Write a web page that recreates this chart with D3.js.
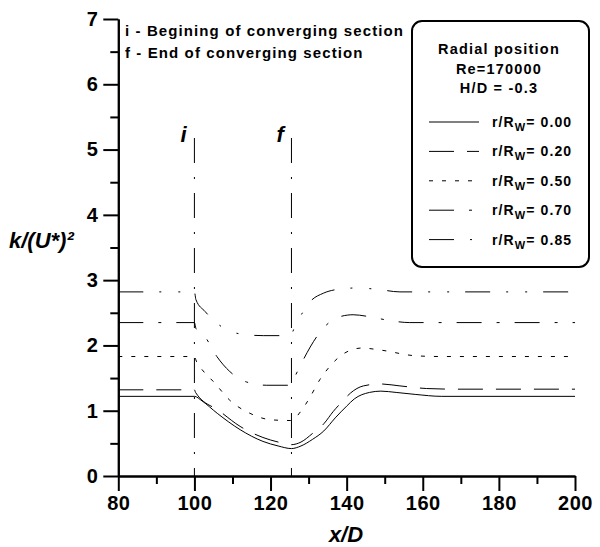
<!DOCTYPE html>
<html><head><meta charset="utf-8">
<script src="https://cdn.jsdelivr.net/npm/d3@7"></script>
<style>
body{margin:0;background:#fff;}
text{font-family:"Liberation Sans",Arial,sans-serif;font-weight:bold;fill:#000;}
</style></head>
<body>
<svg id="c" width="600" height="547"></svg>
<script>
// ---- data ----
const xTicks = [80,100,120,140,160,180,200];
const yTicks = [0,1,2,3,4,5,6,7];
const seriesNames = ["0.00","0.20","0.50","0.70","0.85"];
const markerX = [100,125.5];
const markerLabels = ["i","f"];
const notes = ["i - Begining of converging section","f - End of converging section"];
const legendTitle = ["Radial position","Re=170000","H/D = -0.3"];

const r000 = [[80,1.22],[100,1.22],[102,1.15],[106,0.96],[112,0.71],[118,0.53],[122,0.46],[125.5,0.42],[128,0.46],[131,0.56],[134,0.69],[137,0.89],[140,1.07],[142,1.18],[146,1.28],[149,1.30],[153,1.28],[158,1.25],[165,1.22],[200,1.22]];
const r020 = [[80,1.32],[100,1.32],[100.3,1.28],[106.7,0.99],[112,0.76],[118,0.59],[122,0.52],[125.5,0.48],[128,0.52],[131,0.65],[134,0.80],[136.5,0.99],[139,1.15],[141,1.27],[144.4,1.38],[148.8,1.41],[154,1.38],[161,1.34],[169,1.33],[200,1.33]];
const r050 = [[80,1.83],[100,1.83],[100.5,1.76],[101.5,1.67],[105.4,1.42],[109.3,1.16],[114.6,0.96],[120.3,0.86],[125.3,0.85],[128.2,1.01],[130.4,1.21],[133,1.48],[135.6,1.68],[139.1,1.87],[144,1.96],[148.8,1.93],[158.4,1.84],[165,1.83],[200,1.83]];
const r070 = [[80,2.35],[100,2.35],[100.4,2.26],[102.8,2.13],[105.9,1.83],[109.3,1.60],[113.7,1.44],[119,1.39],[125.4,1.39],[126.4,1.52],[128.6,1.78],[132.1,2.13],[135.6,2.36],[138.2,2.44],[141.7,2.47],[146,2.44],[151.4,2.38],[156.6,2.35],[200,2.35]];
const r085 = [[80,2.82],[100,2.82],[100.4,2.70],[102.8,2.52],[105.5,2.36],[108.5,2.24],[112.8,2.17],[118.1,2.15],[125.2,2.15],[126.4,2.29],[128.6,2.52],[130.4,2.67],[133.9,2.80],[137.8,2.86],[142.6,2.88],[148,2.86],[154,2.82],[200,2.82]];
const seriesData = [r000,r020,r050,r070,r085];
const dashes = ["none","25,13","4,9","25,15,3,15","25,16,2,17,2,16"];

// ---- chart ----
const svg = d3.select("#c");
const x = d3.scaleLinear().domain([80,200]).range([118.3,575]);
const y = d3.scaleLinear().domain([0,7]).range([476,19]);

function styleAxis(g){
  g.select(".domain").attr("stroke","#000").attr("stroke-width",2);
  g.selectAll(".tick line").attr("stroke","#000").attr("stroke-width",2);
  g.selectAll(".tick text").style("font-size","20px").style("font-family","'Liberation Sans',Arial,sans-serif").style("font-weight","bold").style("letter-spacing","0.5px").attr("fill","#000");
}
// minor ticks
svg.append("g").attr("transform","translate(0,476)")
  .call(d3.axisBottom(x).tickValues(d3.range(90,200,20)).tickSize(8).tickSizeOuter(0).tickFormat(""))
  .call(styleAxis);
svg.append("g").attr("transform","translate(118.3,0)")
  .call(d3.axisLeft(y).tickValues(d3.range(0.5,7,1)).tickSize(8).tickSizeOuter(0).tickFormat(""))
  .call(styleAxis);
// major
svg.append("g").attr("transform","translate(0,476)")
  .call(d3.axisBottom(x).tickValues(xTicks).tickSize(15).tickSizeOuter(0).tickPadding(5).tickFormat(d3.format("d")))
  .call(styleAxis);
svg.append("g").attr("transform","translate(118.3,0)")
  .call(d3.axisLeft(y).tickValues(yTicks).tickSize(15).tickSizeOuter(0).tickPadding(5).tickFormat(d3.format("d")))
  .call(styleAxis);

// axis titles
svg.append("text").attr("x",346).attr("y",542).attr("text-anchor","middle")
  .style("font-size","22px").style("font-style","italic").text("x/D");
svg.append("text").attr("x",9).attr("y",248)
  .style("font-size","22px").style("font-style","italic").text("k/(U*)²");

// marker lines
markerX.forEach((mx,i)=>{
  svg.append("line").attr("x1",x(mx)).attr("x2",x(mx)).attr("y1",138).attr("y2",476)
    .attr("stroke","#000").attr("stroke-width",1).attr("stroke-dasharray","25,14,2,14");
  svg.append("text").attr("x",x(mx)-(i==0?14:15)).attr("y",142)
    .style("font-size","22px").style("font-style","italic").text(markerLabels[i]);
});

// notes
notes.forEach((t,i)=>{
  svg.append("text").attr("x",125).attr("y",36+i*22).style("font-size","15px")
    .style("letter-spacing","1.1px").text(t);
});

// series
const line = d3.line().x(d=>x(d[0])).y(d=>y(d[1])).curve(d3.curveMonotoneX);
seriesData.forEach((s,i)=>{
  svg.append("path").attr("d",line(s)).attr("fill","none").attr("stroke","#000")
    .attr("stroke-width",1).attr("stroke-dasharray",dashes[i]);
});

// legend
svg.append("rect").attr("x",412).attr("y",21).attr("width",177).attr("height",246)
  .attr("rx",10).attr("fill","#fff").attr("stroke","#000").attr("stroke-width",2);
legendTitle.forEach((t,i)=>{
  svg.append("text").attr("x",499).attr("y",54+i*19.7).attr("text-anchor","middle")
    .style("font-size","14.5px").style("letter-spacing","1.2px").text(t);
});
seriesNames.forEach((n,i)=>{
  const ly = 122 + i*29.4;
  svg.append("line").attr("x1",429).attr("x2",479).attr("y1",ly).attr("y2",ly)
    .attr("stroke","#000").attr("stroke-width",1).attr("stroke-dasharray",dashes[i]);
  const t = svg.append("text").attr("x",492).attr("y",ly+5).style("font-size","14px").style("letter-spacing","1.1px");
  t.append("tspan").text("r/R");
  t.append("tspan").attr("dy",4).style("font-size","11px").text("W");
  t.append("tspan").attr("dy",-4).text("= "+n);
});
</script>
</body></html>
